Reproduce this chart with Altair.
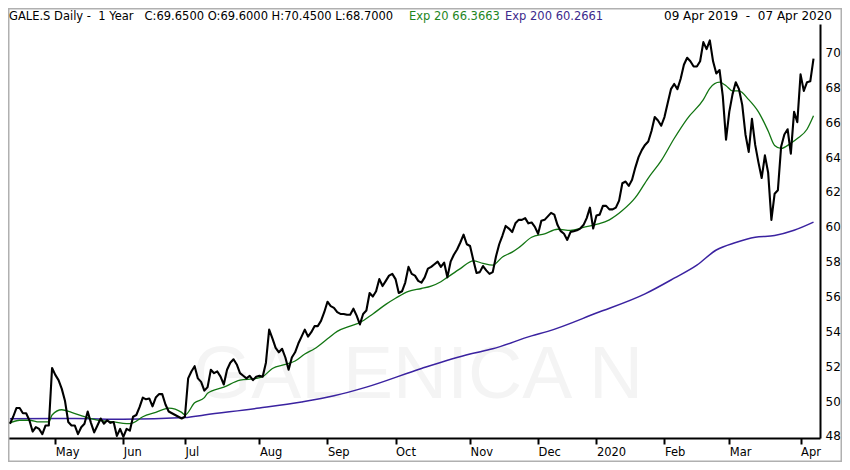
import altair as alt
import pandas as pd

# ---- data (x = trading-day index from 09 Apr 2019) ----
close = [
    48.7, 49.1, 49.6, 49.6, 49.3, 49.3, 48.9, 48.25, 48.5, 48.4,
    48.1, 48.6, 48.6, 51.9, 51.5, 51.2, 50.7, 50.0, 48.8, 48.6,
    48.6, 48.1, 48.5, 48.7, 49.4, 48.75, 48.2, 48.6, 49.0, 48.7,
    48.9, 48.75, 48.8, 48.0, 48.4, 47.95, 48.4, 48.3, 49.1, 49.2,
    49.65, 50.2, 50.1, 50.15, 49.7, 50.2, 50.4, 50.4, 49.8, 49.4,
    49.3, 49.2, 49.1, 49.0, 49.1, 51.3, 51.7, 52.0, 51.3, 51.1,
    50.6, 50.8, 51.8, 51.6, 51.7, 51.4, 50.95, 51.8, 52.2, 52.4,
    52.1, 51.6, 51.45, 51.3, 51.45, 51.2, 51.4, 51.45, 51.4, 52.2,
    54.1, 53.6, 53.05, 52.8, 53.0, 52.5, 51.8, 52.5, 52.8, 53.3,
    53.7, 54.1, 53.7, 53.95, 54.3, 54.3, 54.6, 55.1, 55.7, 55.45,
    55.35, 55.1, 55.0, 55.0, 54.95, 54.95, 55.3, 54.9, 54.4, 55.0,
    55.2, 56.2, 56.0, 56.3, 57.0, 56.6, 56.9, 57.2, 57.3, 57.0,
    56.2, 56.3, 56.8, 57.7, 57.3, 57.2, 56.9, 56.8, 57.1, 57.6,
    57.7, 57.85, 58.0, 57.7, 57.95, 57.1, 58.0, 58.4, 58.7, 59.1,
    59.55, 59.0, 58.9, 58.1, 57.35, 57.4, 57.75, 57.5, 57.3, 57.4,
    58.3, 59.0, 59.5, 60.05, 59.9, 59.7, 60.2, 60.4, 60.4, 60.5,
    60.2, 60.25, 60.0, 59.6, 60.35, 60.4, 60.6, 60.8, 60.7, 60.1,
    59.75, 59.6, 59.25, 59.7, 59.75, 59.8, 59.9, 60.1, 60.5, 61.1,
    59.9, 60.65, 60.7, 61.2, 61.2, 61.0, 61.0, 61.1, 61.5, 62.5,
    62.6, 62.35, 62.7, 63.4, 64.0, 64.4, 64.7, 64.9, 65.5, 66.3,
    66.1, 65.8, 66.3, 67.1, 67.9, 68.2, 67.9, 68.5, 69.3, 69.7,
    69.5, 69.2, 69.2, 69.5, 70.6, 70.2, 70.7, 69.5, 68.8, 69.0,
    67.5, 65.0, 66.6, 67.6, 68.3, 67.9, 67.0, 65.3, 64.3, 66.2,
    64.7, 63.7, 62.8, 64.1, 63.1, 60.4, 61.9, 62.1, 64.6, 65.3,
    65.6, 64.2, 66.6, 66.0, 68.75, 67.8, 68.3, 68.35, 69.65,
]

ema20_idx = [0, 3, 6, 9, 12, 13, 16, 19, 23, 27, 32, 36, 38, 41, 45, 49, 53, 54,
             57, 60, 61, 66, 71, 76, 78, 81, 85, 88, 91, 94, 98, 101, 105, 108,
             112, 116, 119, 123, 127, 130, 133, 135, 139, 143, 146, 149, 152, 155,
             157, 161, 165, 169, 173, 177, 181, 185, 189, 193, 197, 201, 205, 209,
             214, 216, 219, 221, 223, 225, 228, 231, 234, 236, 238, 241, 243, 246, 248]
ema20_val = [48.75, 48.9, 48.9, 48.8, 48.8, 49.2, 49.5, 49.35, 49.1, 48.9, 48.8, 48.7,
             48.75, 49.1, 49.35, 49.6, 49.35, 49.2, 49.9, 50.2, 50.45, 50.8, 51.2,
             51.3, 51.4, 51.87, 52.1, 52.3, 52.7, 53.0, 53.57, 54.0, 54.3, 54.5,
             55.0, 55.55, 55.9, 56.3, 56.46, 56.6, 56.85, 57.1, 57.6, 58.05, 57.9,
             57.8, 58.27, 58.55, 58.8, 59.4, 59.6, 59.86, 59.8, 59.97, 60.14, 60.4,
             60.93, 61.67, 62.8, 63.8, 65.07, 66.2, 67.3, 67.95, 68.3, 68.1, 67.8,
             67.8, 67.3, 66.6, 65.5, 64.67, 64.5, 64.8, 65.07, 65.6, 66.37]

ema200_idx = [0, 20, 35, 54, 60, 77, 90, 100, 110, 127, 142, 149, 161, 166, 181,
              196, 205, 212, 218, 224, 230, 236, 242, 248]
ema200_val = [48.98, 49.0, 48.95, 49.05, 49.2, 49.6, 49.95, 50.3, 50.8, 51.87, 52.7,
              53.0, 53.74, 54.0, 55.05, 56.15, 57.05, 57.8, 58.67, 59.1, 59.4, 59.5,
              59.8, 60.27]

month_labels = ["May", "Jun", "Jul", "Aug", "Sep", "Oct", "Nov", "Dec", "2020", "Feb", "Mar", "Apr"]
month_tick_idx = [14, 35, 54, 77, 98, 119, 142, 163, 181, 202, 222, 244]
y_ticks = [48, 50, 52, 54, 56, 58, 60, 62, 64, 66, 68, 70]

header_main = "GALE.S Daily -\u00a0\u00a01 Year\u00a0\u00a0\u00a0C:69.6500 O:69.6000 H:70.4500 L:68.7000"
header_ema20 = "Exp 20 66.3663"
header_ema200 = "Exp 200 60.2661"
header_dates = "09 Apr 2019\u00a0\u00a0-\u00a0\u00a007 Apr 2020"
watermark = "GALENICA N"

# ---- frames ----
df_close = pd.DataFrame({"i": list(range(len(close))), "v": close})
df_e20 = pd.DataFrame({"i": ema20_idx, "v": ema20_val})
df_e200 = pd.DataFrame({"i": ema200_idx, "v": ema200_val})
one = pd.DataFrame({"k": [0]})

FONT = "DejaVu Sans"
W, H = 812, 414
xscale = alt.Scale(domain=[-0.6, 250], nice=False, zero=False)
yscale = alt.Scale(domain=[47.88, 71.64], nice=False, zero=False)

label_expr = "[{}][indexof([{}], datum.value)]".format(
    ",".join("'%s'" % s for s in month_labels),
    ",".join(str(v) for v in month_tick_idx),
)

xaxis = alt.Axis(
    values=month_tick_idx, labelExpr=label_expr, title="", grid=False,
    domainColor="black", domainWidth=2.2, tickColor="black", tickWidth=2, tickSize=6,
    labelAlign="left", labelBaseline="top", labelPadding=2, labelFont=FONT,
    labelFontSize=11.5, labelColor="black", labelFlush=False, labelOverlap=False,
)
yaxis = alt.Axis(
    orient="right", values=y_ticks, title="", grid=False, ticks=False,
    domainColor="black", domainWidth=2, labelPadding=5, labelFont=FONT,
    labelFontSize=12, labelColor="black", labelAlign="left", labelBaseline="middle",
    labelFlush=False, labelOverlap=False,
)

X = alt.X("i:Q", scale=xscale, axis=xaxis)
Y = alt.Y("v:Q", scale=yscale, axis=yaxis)

frame = alt.Chart(one).mark_rect(fill="transparent", stroke="#b0b0b0", strokeWidth=1.5).encode(
    x=alt.value(0.75), x2=alt.value(833.25), y=alt.value(-15.25), y2=alt.value(437.25)
)

wm = alt.Chart(one).mark_text(
    text=watermark, font="Liberation Sans", fontSize=75, color="#f4f4f4",
    align="center", baseline="alphabetic",
).encode(x=alt.value(410), y=alt.value(374))

l200 = alt.Chart(df_e200).mark_line(color="#3a22a0", strokeWidth=1.5, interpolate="monotone").encode(x=X, y=Y)
l20 = alt.Chart(df_e20).mark_line(color="#127512", strokeWidth=1.3, interpolate="monotone").encode(x=X, y=Y)
lc = alt.Chart(df_close).mark_line(color="black", strokeWidth=2.1, strokeJoin="round").encode(x=X, y=Y)

def htext(t, x, color, align="left", size=11.5):
    return alt.Chart(one).mark_text(
        text=t, font=FONT, fontSize=size, color=color, align=align, baseline="alphabetic"
    ).encode(x=alt.value(x), y=alt.value(-4.5))

h1 = htext(header_main, 1, "black")
h2 = htext(header_ema20, 401, "#1e861e")
h3 = htext(header_ema200, 497, "#3c2a8c")
h4 = htext(header_dates, 824, "black", align="right", size=12)

chart = alt.layer(frame, wm, l200, l20, lc, h1, h2, h3, h4).properties(
    width=W, height=H,
    padding={"left": 0, "top": 16, "right": 22, "bottom": 24},
    autosize=alt.AutoSizeParams(type="none"),
    background="white",
).configure_view(strokeWidth=0).configure_axis(labelOverlap=False)

chart.save("out.html", embed_options={"renderer": "svg", "actions": False})
